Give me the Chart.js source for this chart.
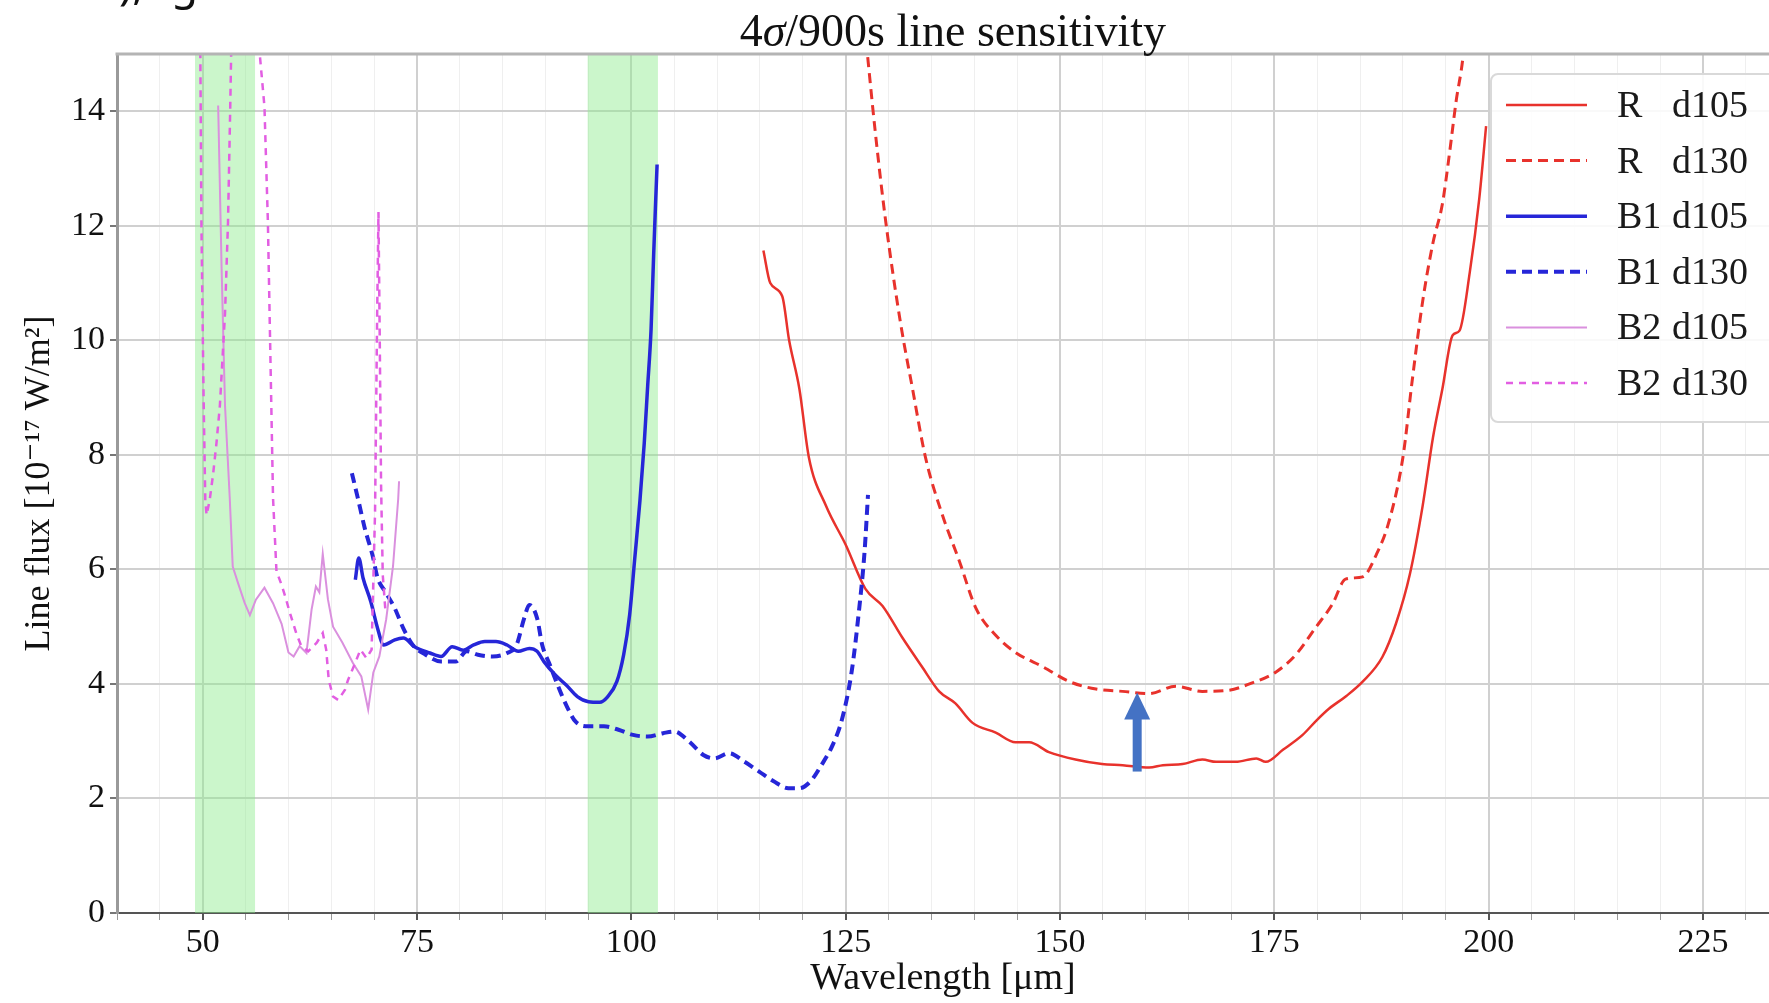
<!DOCTYPE html>
<html>
<head>
<meta charset="utf-8">
<title>4σ/900s line sensitivity</title>
<script src="https://cdn.jsdelivr.net/npm/chart.js@4.4.1/dist/chart.umd.min.js"></script>
<style>
  html, body { margin: 0; padding: 0; background: #fff; overflow: hidden; }
  #wrap { position: relative; width: 1769px; height: 1003px; }
  canvas { display: block; }
  .cut { position: absolute; top: -40px; font: 44px/1 "Noto Sans", sans-serif; color: #111; }
</style>
</head>
<body>
<div id="wrap">
  <canvas id="chartSens" width="1769" height="1003"></canvas>
  <span class="cut" style="left:119px">),</span>
  <span class="cut" style="left:171px">g</span>
</div>
<script>
"use strict";

var SERIF = "'Liberation Serif', 'DejaVu Serif', serif";

// [wavelength um, line flux 1e-17 W/m2]
var R_D105 = [[115.4, 11.57], [116.2, 11.0], [117.6, 10.77], [118.4, 10.0], [119.6, 9.15], [120.7, 7.96],
  [122.7, 7.11], [125.0, 6.43], [127.3, 5.66], [129.3, 5.36], [131.6, 4.81], [133.9, 4.30], [135.9, 3.87],
  [137.8, 3.66], [139.8, 3.32], [142.5, 3.15], [144.8, 2.98], [146.4, 2.98], [148.7, 2.81], [151.8, 2.68],
  [154.9, 2.60], [157.3, 2.58], [160.4, 2.54], [162.0, 2.58], [164.3, 2.60], [166.6, 2.68], [168.2, 2.64],
  [170.5, 2.64], [172.9, 2.70], [174.0, 2.64], [176.0, 2.85], [178.3, 3.11], [179.9, 3.36], [181.4, 3.57],
  [183.4, 3.79], [185.3, 4.04], [187.6, 4.47], [189.2, 5.06], [190.8, 5.91], [192.3, 7.11], [193.5, 8.30],
  [194.6, 9.15], [195.8, 10.09], [196.6, 10.17], [197.8, 11.19], [198.9, 12.47], [199.7, 13.74]];

var R_D130 = [[127.2, 15.5], [128.5, 13.57], [129.7, 12.04], [131.4, 10.3], [132.8, 9.15], [134.3, 7.96],
  [136.3, 6.94], [138.2, 6.17], [140.2, 5.32], [142.5, 4.85], [144.8, 4.55], [148.0, 4.30], [151.1, 4.04],
  [154.2, 3.91], [157.3, 3.87], [160.4, 3.83], [163.5, 3.96], [166.6, 3.87], [169.7, 3.89], [172.1, 4.0],
  [175.2, 4.21], [177.5, 4.51], [179.8, 4.98], [181.8, 5.40], [183.3, 5.83], [185.3, 5.87], [186.9, 6.26],
  [188.4, 6.85], [190.0, 7.96], [191.1, 9.32], [192.3, 10.68], [193.5, 11.70], [194.6, 12.38], [195.4, 13.23],
  [196.2, 14.17], [197.0, 14.94], [197.4, 15.6]];

var B1_D105 = [[67.8, 5.82], [68.2, 6.2], [68.7, 5.85], [69.6, 5.44], [70.4, 4.97], [71.1, 4.68], [72.4, 4.77],
  [73.4, 4.80], [74.7, 4.65], [76.5, 4.54], [77.8, 4.48], [79.1, 4.65], [80.4, 4.59], [81.6, 4.68], [82.9, 4.74],
  [84.2, 4.74], [85.5, 4.68], [86.8, 4.57], [88.1, 4.62], [89.0, 4.57], [89.8, 4.39], [91.1, 4.16], [92.4, 3.98],
  [93.7, 3.78], [95.0, 3.69], [96.3, 3.68], [97.2, 3.77], [98.3, 4.04], [99.1, 4.51], [99.8, 5.21], [100.4, 6.2],
  [101.0, 7.2], [101.5, 8.2], [101.9, 9.2], [102.3, 10.2], [102.6, 11.5], [102.8, 12.3], [103.0, 13.07]];

var B1_D130 = [[67.4, 7.68], [68.1, 7.24], [68.9, 6.72], [69.8, 6.25], [70.4, 5.85], [71.3, 5.61], [72.4, 5.32],
  [73.4, 4.97], [74.5, 4.68], [76.0, 4.51], [77.8, 4.39], [79.5, 4.39], [80.8, 4.57], [82.1, 4.51], [83.8, 4.48],
  [85.5, 4.54], [86.6, 4.68], [87.5, 5.15], [88.1, 5.38], [89.0, 5.15], [89.6, 4.68], [90.5, 4.33], [91.4, 3.98],
  [92.4, 3.63], [93.5, 3.34], [95.0, 3.26], [96.8, 3.26], [98.5, 3.20], [100.2, 3.11], [101.9, 3.08], [103.7, 3.14],
  [105.0, 3.17], [106.7, 3.0], [108.4, 2.76], [109.7, 2.70], [111.4, 2.79], [113.2, 2.64], [114.9, 2.47],
  [116.6, 2.30], [118.3, 2.18], [119.6, 2.18], [120.9, 2.30], [122.2, 2.59], [123.5, 2.94], [124.6, 3.40],
  [125.7, 4.22], [126.5, 5.21], [127.2, 6.31], [127.6, 7.30]];

var B2_D105 = [[51.8, 14.1], [52.2, 11.27], [52.6, 8.86], [53.15, 7.25], [53.5, 6.05], [54.1, 5.77], [54.9, 5.41],
  [55.5, 5.2], [56.2, 5.47], [57.2, 5.68], [58.2, 5.41], [59.2, 5.05], [60.0, 4.55], [60.6, 4.48], [61.3, 4.66],
  [62.1, 4.54], [62.7, 5.3], [63.2, 5.7], [63.6, 5.6], [64.0, 6.27], [64.6, 5.48], [65.2, 5.0], [66.3, 4.72],
  [67.5, 4.37], [68.5, 4.13], [69.3, 3.55], [69.9, 4.2], [70.6, 4.48], [71.4, 5.13], [72.2, 6.06], [72.8, 7.23],
  [72.9, 7.54]];

var B2_D130 = [[49.7, 15.5], [49.85, 12.0], [50.1, 9.0], [50.3, 7.2], [50.45, 6.95], [50.8, 7.2], [51.2, 7.65],
  [51.6, 8.2], [52.0, 8.86], [52.6, 10.47], [52.95, 12.07], [53.2, 14.0], [53.35, 15.3], [55.0, 18.0],
  [56.55, 15.3], [56.65, 15.0], [57.2, 14.08], [57.6, 12.07], [57.9, 9.66], [58.2, 7.25], [58.6, 5.97],
  [59.2, 5.73], [59.6, 5.54], [60.15, 5.25], [60.9, 4.89], [61.5, 4.66], [62.3, 4.57], [63.3, 4.72], [64.0, 4.89],
  [64.4, 4.6], [64.7, 4.07], [65.2, 3.78], [65.8, 3.72], [66.6, 3.9], [66.95, 4.07], [67.6, 4.3], [68.4, 4.6],
  [69.1, 4.45], [69.7, 4.6], [70.1, 7.0], [70.35, 10.5], [70.5, 12.24], [70.65, 10.0], [70.8, 7.5], [71.0, 5.9],
  [71.3, 5.3]];

var SERIES_LABELS = ["R d105", "R d130", "B1 d105", "B1 d130", "B2 d105", "B2 d130"];

// shaded wavelength ranges and the marker arrow
var BANDS = [[49.1, 56.1], [94.9, 103.1]];
var ARROW = { x: 159, from: 2.47, to: 3.85 };

var X_MIN = 40, X_MAX = 232.7, X_FULL_MAX = 235;
var Y_MIN = 0, Y_MAX = 15;

var RED = "#e8322c";
var BLUE = "#2626d8";
var VIOLET = "#da90de";
var MAGENTA = "#e25ee2";

function pts(arr) {
  return arr.map(function (p) { return { x: p[0], y: p[1] }; });
}

function line(label, arr, color, width, dash, order, smooth) {
  return {
    label: label, data: pts(arr),
    borderColor: color, backgroundColor: color,
    borderWidth: width, borderDash: dash,
    pointRadius: 0, fill: false, clip: 0, order: order,
    tension: smooth ? 0.3 : 0,
    cubicInterpolationMode: smooth ? "monotone" : "default"
  };
}

var chartPlugins = {
  id: "sensFrame",
  beforeDatasetsDraw: function (chart) {
    var ctx = chart.ctx, a = chart.chartArea, xs = chart.scales.x;
    ctx.save();
    ctx.fillStyle = "rgba(140,236,140,0.45)";
    BANDS.forEach(function (b) {
      var x0 = xs.getPixelForValue(b[0]), x1 = xs.getPixelForValue(b[1]);
      ctx.fillRect(x0, a.top, x1 - x0, a.bottom - a.top);
    });
    ctx.restore();
  },
  afterDatasetsDraw: function (chart) {
    // blue arrow
    var ctx = chart.ctx, xs = chart.scales.x, ys = chart.scales.y;
    var x = xs.getPixelForValue(ARROW.x);
    var y0 = ys.getPixelForValue(ARROW.from), y1 = ys.getPixelForValue(ARROW.to);
    var head = 27, half = 13;
    ctx.save();
    ctx.fillStyle = "#4472c4";
    ctx.fillRect(x - 4.5, y1 + head - 1, 9, y0 - y1 - head + 1);
    ctx.beginPath();
    ctx.moveTo(x, y1);
    ctx.lineTo(x + half, y1 + head);
    ctx.lineTo(x - half, y1 + head);
    ctx.closePath();
    ctx.fill();
    ctx.restore();
  },
  afterDraw: function (chart) {
    var ctx = chart.ctx, a = chart.chartArea, xs = chart.scales.x;
    ctx.save();

    // top spine
    ctx.strokeStyle = "#b4b4b4";
    ctx.lineWidth = 3;
    ctx.beginPath();
    ctx.moveTo(a.left - 1.5, a.top);
    ctx.lineTo(a.right, a.top);
    ctx.stroke();

    // title, centred on the full axis
    var cx = xs.getPixelForValue((X_MIN + X_FULL_MAX) / 2);
    var parts = [["4", "normal"], ["σ", "italic"], ["/900s line sensitivity", "normal"]];
    var total = 0;
    parts.forEach(function (p) {
      ctx.font = p[1] + " 46px " + SERIF;
      p.push(ctx.measureText(p[0]).width);
      total += p[2];
    });
    var tx = cx - total / 2;
    ctx.fillStyle = "#111";
    ctx.textBaseline = "alphabetic";
    parts.forEach(function (p) {
      ctx.font = p[1] + " 46px " + SERIF;
      ctx.fillText(p[0], tx, 46);
      tx += p[2];
    });

    // legend in the upper right corner
    var bx = 1491, by = 74, bw = 300, bh = 348, r = 7;
    ctx.fillStyle = "rgba(255,255,255,0.86)";
    ctx.strokeStyle = "#d9d9d9";
    ctx.lineWidth = 2;
    ctx.beginPath();
    ctx.moveTo(bx + r, by);
    ctx.lineTo(bx + bw, by);
    ctx.lineTo(bx + bw, by + bh);
    ctx.lineTo(bx + r, by + bh);
    ctx.arcTo(bx, by + bh, bx, by + bh - r, r);
    ctx.lineTo(bx, by + r);
    ctx.arcTo(bx, by, bx + r, by, r);
    ctx.closePath();
    ctx.fill();
    ctx.stroke();

    ctx.font = "38px " + SERIF;
    ctx.textBaseline = "middle";
    chart.data.datasets.forEach(function (ds, i) {
      var rowY = 105 + i * 55.6;
      ctx.strokeStyle = ds.borderColor;
      ctx.lineWidth = ds.borderWidth;
      ctx.setLineDash(ds.borderDash || []);
      ctx.beginPath();
      ctx.moveTo(1506, rowY);
      ctx.lineTo(1587, rowY);
      ctx.stroke();
      ctx.setLineDash([]);
      var bits = ds.label.split(" ");
      ctx.fillStyle = "#1a1a1a";
      ctx.fillText(bits[0], 1617, rowY + 2);
      ctx.fillText(bits[1], 1672, rowY + 2);
    });
    ctx.restore();
  }
};

document.addEventListener("DOMContentLoaded", function () {
  var ctx = document.getElementById("chartSens");
  new Chart(ctx, {
    type: "line",
    data: {
      datasets: [
        line(SERIES_LABELS[0], R_D105, RED, 2.5, [], 6, true),
        line(SERIES_LABELS[1], R_D130, RED, 3, [10, 6], 5, true),
        line(SERIES_LABELS[2], B1_D105, BLUE, 3.5, [], 4, true),
        line(SERIES_LABELS[3], B1_D130, BLUE, 4, [10, 6], 3, true),
        line(SERIES_LABELS[4], B2_D105, VIOLET, 2, [], 2, false),
        line(SERIES_LABELS[5], B2_D130, MAGENTA, 2.5, [7, 6], 1, false)
      ]
    },
    options: {
      responsive: false, animation: false,
      layout: { padding: { top: 54, left: 0, right: 0, bottom: 0 } },
      plugins: { legend: { display: false }, title: { display: false }, tooltip: { enabled: false } },
      scales: {
        x: {
          type: "linear", min: X_MIN, max: X_MAX,
          afterFit: function (s) { s.height = 90; },
          ticks: {
            stepSize: 5, autoSkip: false, includeBounds: false, maxRotation: 0, padding: 3,
            font: { family: SERIF, size: 34 }, color: "#111",
            callback: function (v) { return v % 25 === 0 ? String(v) : ""; }
          },
          grid: {
            color: function (c) { return c.tick && c.tick.value % 25 === 0 ? "#d0d0d0" : "#efefef"; },
            lineWidth: function (c) { return c.tick && c.tick.value % 25 === 0 ? 2 : 1; },
            tickColor: function (c) { return c.tick && c.tick.value % 25 === 0 ? "#555" : "#999"; },
            tickLength: 7
          },
          border: { color: "#555", width: 2 },
          title: {
            display: true, text: "Wavelength [μm]", color: "#111",
            font: { family: SERIF, size: 38 }, padding: { top: 0, bottom: 1 }
          }
        },
        y: {
          min: Y_MIN, max: Y_MAX,
          afterFit: function (s) { s.width = 117; },
          ticks: {
            stepSize: 2, includeBounds: false, padding: 5,
            font: { family: SERIF, size: 34 }, color: "#111"
          },
          grid: { color: "#d0d0d0", lineWidth: 2, tickColor: "#777", tickLength: 7 },
          border: { color: "#9a9a9a", width: 3 },
          title: {
            display: true, text: "Line flux [10⁻¹⁷ W/m²]", color: "#111",
            font: { family: SERIF, size: 36 }, padding: { top: 18, bottom: 0 }
          }
        }
      }
    },
    plugins: [chartPlugins]
  });
});
</script>
</body>
</html>
